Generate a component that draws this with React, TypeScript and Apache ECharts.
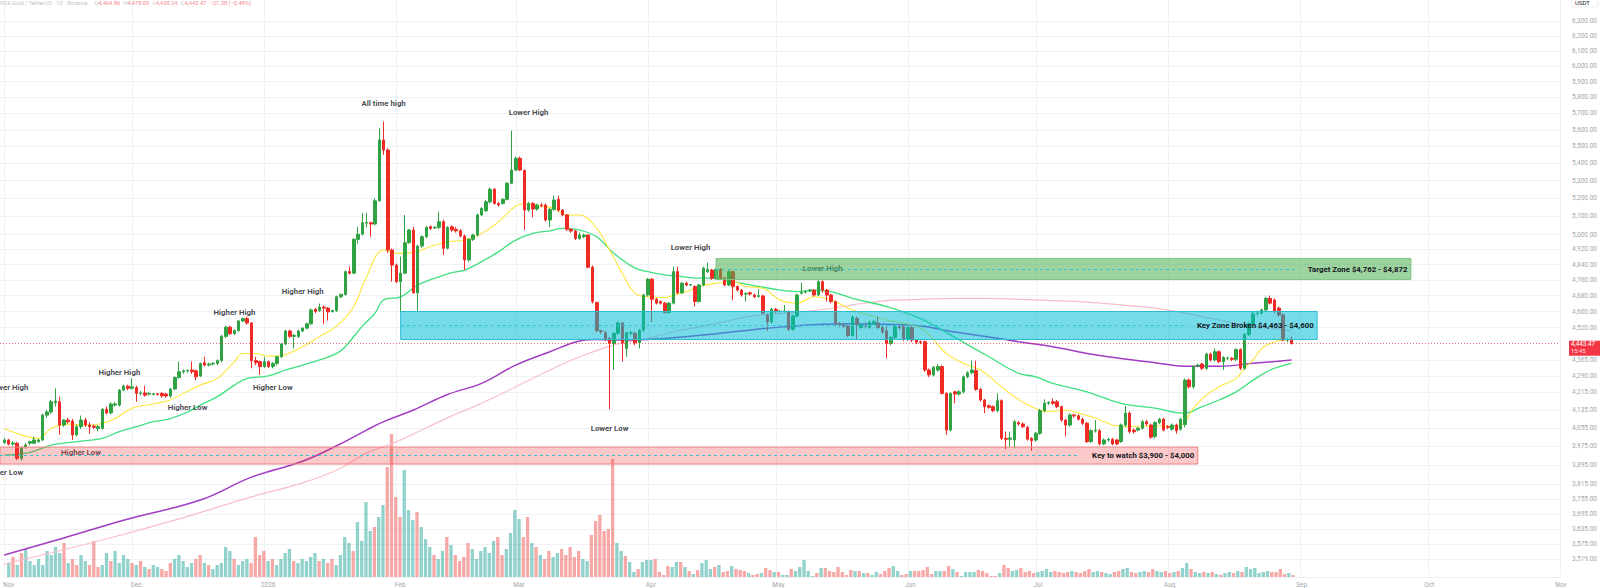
import React, { useEffect, useRef } from "react";
import * as echarts from "echarts";

// ---------- DATA ----------
// Day 0 = 2025-11-01. Axis runs from 2025-10-31 to 2026-11-01.
const AXIS_START_UTC = Date.UTC(2025, 9, 31);
const AXIS_DAYS = 367;

// [open, close, low, high] per day from 2025-11-01
const candles: number[][] = [
  [3992,4003,3985,4010],[4003,3985,3980,4008],[3985,3990,3978,3998],[3989,3924,3917,3995],[3924,3967,3915,3975],
  [3974,3981,3965,3990],[3989,3996,3980,4000],[3989,4003,3985,4018],[3996,4003,3990,4008],[4003,4112,3998,4118],
  [4112,4126,4100,4135],[4126,4172,4118,4180],[4168,4175,4150,4233],[4172,4068,4025,4195],[4068,4090,4060,4095],
  [4090,4083,4075,4100],[4086,4025,4003,4095],[4025,4061,4018,4070],[4061,4090,4050,4110],[4090,4068,4060,4100],
  [4068,4061,4030,4080],[4063,4058,4050,4070],[4053,4061,4040,4068],[4053,4138,4048,4145],[4138,4122,4115,4150],
  [4122,4162,4115,4170],[4157,4162,4150,4170],[4157,4225,4150,4230],[4225,4243,4220,4250],[4243,4233,4225,4250],
  [4233,4240,4228,4279],[4237,4210,4172,4245],[4210,4212,4200,4220],[4212,4202,4195,4245],[4207,4210,4200,4215],
  [4206,4208,4200,4212],[4208,4205,4200,4212],[4210,4199,4190,4215],[4207,4198,4190,4212],[4198,4230,4190,4235],
  [4230,4283,4225,4288],[4283,4310,4278,4357],[4310,4314,4300,4320],[4314,4316,4305,4320],[4318,4310,4300,4357],
  [4314,4286,4270,4320],[4290,4349,4285,4352],[4352,4341,4335,4380],[4341,4346,4335,4352],[4346,4349,4340,4355],
  [4349,4362,4340,4368],[4362,4478,4355,4485],[4478,4523,4470,4530],[4523,4491,4485,4530],[4491,4507,4485,4512],
  [4507,4553,4500,4558],[4553,4565,4548,4570],[4565,4543,4535,4575],[4543,4362,4326,4548],[4362,4352,4340,4380],
  [4357,4334,4295,4362],[4334,4357,4328,4380],[4357,4334,4328,4362],[4334,4349,4326,4355],[4349,4380,4340,4385],
  [4380,4441,4375,4446],[4441,4504,4435,4510],[4504,4478,4470,4510],[4478,4482,4420,4490],[4478,4504,4470,4510],
  [4504,4518,4498,4522],[4518,4539,4512,4545],[4539,4608,4535,4615],[4611,4600,4592,4618],[4605,4622,4598,4640],
  [4622,4617,4539,4630],[4617,4598,4555,4622],[4600,4605,4595,4610],[4605,4674,4598,4680],[4674,4686,4668,4690],
  [4686,4803,4680,4808],[4803,4795,4788,4830],[4795,4974,4790,4980],[4974,5002,4950,5042],[5002,5064,4995,5119],
  [5062,5066,5040,5119],[5064,5057,4988,5070],[5057,5186,5050,5200],[5186,5539,5180,5609],[5539,5479,5450,5650],
  [5479,4917,4900,5490],[4917,4837,4751,4925],[4837,4751,4745,4845],[4751,4795,4598,4882],[4795,4956,4790,5107],
  [4956,5024,4950,5030],[5024,4694,4690,5042],[4694,4938,4598,4945],[4938,4988,4930,4995],[4988,5039,4980,5045],
  [5042,5033,5025,5050],[5036,5039,5030,5045],[5039,5070,5030,5124],[5070,4926,4890,5080],[4926,5039,4920,5045],
  [5042,5024,5015,5050],[5028,5020,5010,5040],[5020,4992,4985,5030],[4992,4864,4811,5000],[4864,4974,4855,4980],
  [4974,4997,4965,5005],[4997,5107,4990,5115],[5107,5143,5100,5150],[5130,5180,5125,5190],[5180,5251,5170,5260],
  [5251,5171,5165,5258],[5171,5162,5155,5178],[5171,5194,5165,5200],[5194,5285,5188,5292],[5285,5362,5280,5595],
  [5362,5430,5355,5440],[5430,5362,5355,5440],[5358,5134,5024,5365],[5134,5171,5125,5178],[5171,5140,5094,5178],
  [5140,5162,5130,5170],[5162,5158,5150,5175],[5162,5079,5070,5170],[5079,5138,5040,5145],[5138,5190,5130,5215],
  [5194,5134,5125,5215],[5134,5107,5100,5140],[5107,5028,5020,5112],[5028,5019,5010,5034],[5019,4979,4970,5025],
  [4979,4997,4972,5010],[4988,4997,4980,5005],[4997,4826,4820,5002],[4826,4650,4640,4835],[4645,4505,4498,4650],
  [4505,4501,4490,4510],[4496,4463,4455,4505],[4468,4444,4138,4475],[4444,4493,4318,4500],[4493,4543,4485,4550],
  [4543,4447,4357,4548],[4420,4496,4380,4500],[4493,4496,4485,4505],[4493,4447,4435,4500],[4447,4509,4420,4515],
  [4509,4683,4500,4690],[4683,4764,4675,4770],[4764,4661,4548,4770],[4661,4642,4635,4668],[4650,4642,4635,4655],
  [4642,4595,4590,4648],[4595,4642,4588,4648],[4642,4803,4635,4829],[4803,4694,4688,4829],[4694,4743,4688,4750],
  [4743,4734,4728,4750],[4734,4736,4728,4740],[4726,4650,4625,4732],[4650,4734,4645,4740],[4734,4821,4728,4829],
  [4803,4815,4795,4850],[4811,4769,4760,4818],[4769,4815,4762,4822],[4815,4769,4760,4822],[4769,4734,4728,4775],
  [4734,4803,4728,4810],[4803,4726,4658,4810],[4726,4708,4700,4732],[4708,4683,4675,4714],[4688,4691,4650,4696],
  [4694,4688,4680,4700],[4683,4674,4668,4690],[4676,4680,4670,4712],[4678,4592,4585,4685],[4583,4548,4505,4590],
  [4548,4611,4540,4618],[4611,4600,4592,4618],[4600,4602,4595,4608],[4600,4603,4595,4633],[4600,4512,4505,4606],
  [4512,4578,4505,4585],[4578,4683,4570,4690],[4692,4696,4685,4746],[4698,4700,4690,4708],[4703,4708,4698,4714],
  [4708,4683,4675,4712],[4683,4751,4678,4758],[4751,4708,4694,4758],[4708,4683,4650,4714],[4683,4650,4640,4688],
  [4650,4540,4530,4655],[4540,4533,4525,4548],[4533,4528,4520,4540],[4528,4482,4475,4535],[4482,4572,4478,4580],
  [4565,4535,4460,4575],[4521,4533,4515,4540],[4530,4528,4518,4545],[4521,4548,4515,4555],[4540,4550,4535,4560],
  [4543,4521,4515,4575],[4521,4500,4490,4530],[4505,4444,4373,4528],[4444,4473,4435,4480],[4473,4525,4465,4530],
  [4525,4521,4510,4530],[4528,4465,4455,4535],[4465,4521,4455,4528],[4521,4460,4450,4528],[4460,4450,4440,4465],
  [4452,4450,4440,4458],[4452,4318,4310,4458],[4318,4295,4285,4325],[4295,4330,4288,4338],[4318,4334,4310,4345],
  [4334,4210,4205,4340],[4210,4046,4025,4215],[4046,4210,4040,4215],[4217,4207,4165,4222],[4207,4217,4200,4225],
  [4217,4286,4210,4292],[4286,4305,4280,4312],[4305,4318,4298,4362],[4315,4228,4222,4362],[4228,4180,4172,4235],
  [4180,4150,4121,4185],[4154,4147,4140,4160],[4150,4132,4125,4155],[4132,4177,4125,4210],[4177,4010,4003,4183],
  [4010,4006,3963,4040],[4006,4012,3974,4039],[4003,4083,3967,4090],[4079,4073,4065,4085],[4073,4061,4055,4080],
  [4058,4006,4000,4065],[4010,4000,3957,4015],[4003,4032,3995,4038],[4032,4132,4025,4140],[4132,4165,4125,4183],
  [4165,4168,4158,4175],[4172,4165,4158,4186],[4172,4150,4143,4180],[4150,4090,4083,4155],[4090,4068,4018,4095],
  [4068,4113,4060,4120],[4113,4109,4100,4118],[4109,4094,4088,4115],[4094,4076,4068,4100],[4076,3996,3990,4082],
  [3996,4043,3990,4050],[4043,4046,4035,4090],[4043,3986,3980,4050],[3986,4003,3980,4010],[4003,4006,3995,4012],
  [4006,3986,3980,4012],[4003,3986,3980,4008],[3996,4068,3990,4075],[4068,4121,4060,4153],[4121,4039,4032,4128],
  [4046,4039,4030,4052],[4046,4054,4040,4060],[4054,4083,4048,4090],[4083,4073,4065,4090],[4068,4015,4008,4075],
  [4018,4079,4010,4085],[4079,4094,4072,4100],[4094,4046,4040,4100],[4061,4058,4050,4068],[4050,4068,4043,4075],
  [4068,4043,4030,4075],[4050,4094,4043,4100],[4070,4271,4058,4278],[4271,4240,4232,4278],[4240,4334,4232,4340],
  [4338,4341,4330,4348],[4346,4326,4318,4352],[4326,4393,4318,4400],[4393,4365,4358,4400],[4365,4404,4358,4420],
  [4404,4357,4350,4410],[4357,4377,4318,4383],[4373,4374,4365,4380],[4373,4368,4360,4378],[4368,4415,4360,4420],
  [4415,4326,4318,4420],[4326,4487,4318,4495],[4487,4540,4480,4548],[4540,4588,4533,4600],[4590,4592,4580,4605],
  [4592,4608,4585,4615],[4608,4666,4600,4672],[4666,4642,4635,4680],[4658,4600,4592,4665],[4617,4583,4575,4625],
  [4583,4460,4455,4590],[4460,4464.86,4450,4470],[4464.86,4443.47,4438.24,4478.09],
];

// volume per day (same order as candles)
const volumes: number[] = [
  14,20,12,24,28,16,12,18,12,26, 22,30,24,34,14,18,12,22,16,12, 36,10,12,24,16,26,14,22,18,14,
  12,16,10,8,12,10,8,6,14,18, 22,16,10,14,18,22,14,12,8,12, 14,30,26,18,12,16,18,14,40,22,
  26,16,18,12,18,24,28,16,14,18, 16,20,24,16,18,14,18,12,22,40, 34,26,55,36,75,46,50,60,72,110,
  143,80,60,107,67,57,65,50,38,30, 22,18,26,40,32,22,16,20,34,28, 18,26,30,24,36,40,22,28,44,67,
  58,40,60,34,30,22,18,26,20,24, 28,22,30,20,26,18,16,42,56,62, 46,48,118,34,26,21,15,5,8,15,
  17,17,18,5,2,11,10,15,15,10, 6,3,7,14,17,8,10,12,5,6, 11,8,7,6,4,2,3,4,9,7,
  5,5,2,2,8,6,10,17,6,1, 4,9,9,6,5,10,5,2,7,6, 6,4,4,2,5,3,6,9,11,6,
  2,3,6,6,6,7,10,3,6,6, 6,11,8,5,1,5,5,5,7,6, 4,1,1,4,12,9,6,7,9,5,
  6,4,5,6,8,5,6,5,4,5, 6,5,4,6,8,5,6,5,4,3, 5,6,8,9,5,4,5,6,5,8,
  6,5,6,4,5,6,9,14,8,5, 4,5,4,5,3,2,4,5,4,6, 5,10,8,9,4,5,6,5,5,8,
  3,4,2,
];

// moving averages sampled as [day, price]
const emaFast: number[][] = [
  [0,4053],[4,4025],[8,4010],[11,4053],[15,4072],[19,4068],[23,4075],[26,4097],[30,4143],[35,4162],[39,4180],
  [42,4210],[46,4248],[50,4279],[54,4357],[56,4396],[59,4396],[62,4383],[64,4383],[70,4428],[74,4478],[78,4528],
  [82,4625],[85,4777],[89,4917],[92,4899],[96,4903],[100,4935],[104,4961],[108,4970],[112,5006],[116,5070],
  [120,5157],[122,5168],[126,5157],[129,5143],[132,5107],[135,5107],[139,5033],[142,4917],[145,4795],[148,4691],
  [151,4674],[155,4670],[157,4683],[160,4700],[163,4726],[167,4743],[171,4751],[174,4726],[178,4717],[182,4658],
  [186,4642],[190,4674],[194,4658],[199,4608],[207,4558],[215,4517],[221,4396],[225,4349],[229,4318],[233,4256],
  [237,4195],[241,4150],[245,4128],[249,4135],[252,4121],[256,4099],[260,4068],[263,4061],[268,4064],[273,4064],
  [276,4068],[279,4143],[282,4202],[285,4240],[289,4279],[291,4326],[293,4365],[295,4420],[298,4452],[302,4463],
];
const emaMid: number[][] = [
  [0,3938],[6,3950],[11,3981],[15,3991],[19,4000],[23,4010],[27,4039],[31,4061],[35,4083],[39,4097],[43,4126],
  [46,4157],[50,4195],[54,4248],[57,4279],[62,4290],[66,4318],[70,4341],[74,4365],[78,4396],[80,4428],[84,4528],
  [87,4592],[89,4658],[93,4674],[97,4734],[101,4769],[105,4798],[108,4811],[112,4855],[116,4908],[120,4970],
  [124,5006],[128,5020],[131,5033],[135,5024],[139,4988],[143,4899],[148,4821],[151,4803],[155,4786],[159,4777],
  [163,4769],[167,4769],[171,4751],[174,4739],[182,4708],[186,4700],[190,4708],[194,4700],[199,4666],[207,4625],
  [215,4565],[223,4473],[231,4380],[238,4302],[242,4286],[246,4256],[254,4217],[262,4165],[270,4143],[277,4121],
  [281,4150],[285,4180],[289,4217],[293,4271],[297,4318],[302,4349],
];
const emaSlow: number[][] = [
  [0,3534],[14,3600],[28,3670],[46,3751],[58,3845],[70,3912],[78,3978],[85,4046],[89,4083],[96,4135],[104,4205],
  [112,4256],[120,4341],[128,4404],[135,4456],[139,4463],[143,4460],[151,4463],[159,4475],[167,4491],[174,4507],
  [182,4523],[192,4537],[199,4540],[207,4537],[215,4528],[223,4499],[231,4475],[238,4452],[246,4428],[254,4396],
  [262,4372],[270,4352],[277,4336],[285,4336],[293,4349],[302,4365],
];
const smaSlow: number[][] = [
  [0,3500],[23,3592],[40,3670],[58,3764],[70,3821],[78,3875],[85,3947],[89,3974],[93,4003],[104,4100],[112,4165],
  [120,4240],[128,4318],[135,4380],[143,4436],[151,4468],[159,4509],[167,4540],[174,4573],[182,4590],[192,4610],
  [199,4633],[207,4655],[215,4661],[223,4666],[231,4666],[238,4661],[246,4655],[254,4647],[262,4633],[270,4617],
  [277,4592],[285,4558],[291,4535],[302,4505],
];

const priceTicks: number[] = [
  6300, 6200, 6100, 6000, 5900, 5800, 5700, 5600, 5500, 5400, 5300, 5200, 5100, 5000,
  4920, 4840, 4760, 4680, 4600, 4520, 4365, 4290, 4215, 4135, 4055, 3975, 3895,
  3815, 3755, 3695, 3635, 3575, 3519,
];

const lastPrice = 4443.47;
const lastTime = "15:45";
const headerTitle = "PAX Gold / TetherUS · 1D · Binance";
const headerOHLC: [string, string][] = [["O", "4,464.86"], ["H", "4,478.09"], ["L", "4,438.24"], ["C", "4,443.47"]];
const headerChange = "−21.38 (−0.48%)";

// [day, price, text]
const annotations: [number, number, string][] = [
  [89, 5759, "All time high"],
  [123, 5703, "Lower High"],
  [70, 4703, "Higher High"],
  [54, 4593, "Higher High"],
  [27, 4304, "Higher High"],
  [1, 4237, "Lower High"],
  [63, 4237, "Higher Low"],
  [43, 4144, "Higher Low"],
  [18, 3947, "Higher Low"],
  [0, 3863, "Lower Low"],
  [161, 4928, "Lower High"],
  [192, 4821, "Lower High"],
  [142, 4051, "Lower Low"],
];

type Zone = { label: string; from: number; to: number; dashTo: number; low: number; high: number; fill: string; border: string };
const zones: Zone[] = [
  { label: "Target Zone $4,762 - $4,872", from: 167, to: 330, dashTo: 303, low: 4762, high: 4872, fill: "rgba(76,175,80,0.55)", border: "#7cc47f" },
  { label: "Key Zone Broken $4,463 - $4,600", from: 93, to: 308, dashTo: 277, low: 4463, high: 4600, fill: "rgba(0,188,212,0.54)", border: "#2bbcd0" },
  { label: "Key to watch $3,900 - $4,000", from: -1, to: 280, dashTo: 252, low: 3900, high: 3972, fill: "rgba(242,54,54,0.27)", border: "#ee8080" },
];

// ---------- HELPERS ----------
const MONTHS = ["Jan","Feb","Mar","Apr","May","Jun","Jul","Aug","Sep","Oct","Nov","Dec"];
const categories: string[] = [];
for (let i = 0; i < AXIS_DAYS; i++) {
  categories.push(new Date(AXIS_START_UTC + i * 86400000).toISOString().slice(0, 10));
}
const idx = (day: number) => day + 1;
const ln = Math.log;
const fmt = (v: number) => v.toLocaleString("en-US", { minimumFractionDigits: 2, maximumFractionDigits: 2 });
const isMonthStart = (_i: number, v: string) => typeof v === "string" && v.endsWith("-01");
const monthLabel = (v: string) => {
  const [y, m] = v.split("-");
  return m === "01" ? y : MONTHS[Number(m) - 1];
};

const FONT = "Roboto, 'Noto Sans', sans-serif";
const UP = "#2fa343";
const DOWN = "#ee2b24";

export default function App() {
  const ref = useRef<HTMLDivElement>(null);

  useEffect(() => {
    document.body.style.margin = "0";
    if (!ref.current) return;
    const chart = echarts.init(ref.current, undefined, { renderer: "svg" });

    const tickLn = priceTicks.map((p) => ln(p));
    const gridLeft = -2.42;
    const gridRight = 39;

    const lineSeries = (name: string, pts: number[][], color: string, width: number) => ({
      name,
      type: "line",
      xAxisIndex: 0,
      yAxisIndex: 0,
      data: pts.map(([d, p]) => [idx(d), ln(p)]),
      smooth: 0.4,
      symbol: "none",
      clip: false,
      z: 2,
      lineStyle: { color, width },
      silent: true,
    });

    const option: any = {
      animation: false,
      backgroundColor: "#ffffff",
      textStyle: { fontFamily: FONT },
      grid: [
        { left: gridLeft, right: gridRight, top: 0, bottom: 13 },
        { left: gridLeft, right: gridRight, top: 402, bottom: 11 },
      ],
      xAxis: [
        {
          type: "category",
          gridIndex: 0,
          data: categories,
          boundaryGap: false,
          axisLine: { show: false },
          axisTick: { show: false },
          axisLabel: { show: false },
          splitLine: { show: true, interval: isMonthStart, lineStyle: { color: "#f0f1f4", width: 1 } },
        },
        {
          type: "category",
          gridIndex: 1,
          data: categories,
          boundaryGap: false,
          axisLine: { show: true, lineStyle: { color: "#eeeff2" } },
          axisTick: { show: false },
          axisLabel: {
            interval: isMonthStart,
            formatter: monthLabel,
            color: "#a3a6ae",
            fontSize: 6.5,
            margin: 4,
            fontFamily: FONT,
          },
          splitLine: { show: false },
        },
      ],
      yAxis: [
        {
          type: "value",
          gridIndex: 0,
          position: "right",
          min: ln(3458.6),
          max: ln(6444.8),
          axisLine: { show: false },
          axisTick: { show: false, customValues: tickLn },
          axisLabel: {
            customValues: tickLn,
            formatter: (v: number) => fmt(Math.round(Math.exp(v) * 100) / 100),
            color: "#a3a6ae",
            fontSize: 6.5,
            margin: 12,
            fontFamily: FONT,
          },
          splitLine: { show: true, lineStyle: { color: "#f0f1f4", width: 1 } },
        },
        { type: "value", gridIndex: 1, min: 0, max: 175, show: false },
      ],
      series: [
        {
          name: "Volume",
          type: "bar",
          xAxisIndex: 1,
          yAxisIndex: 1,
          barWidth: 3.3,
          z: 1,
          silent: true,
          data: volumes.map((v, i) => ({
            value: [idx(i), v],
            itemStyle: { color: candles[i][1] >= candles[i][0] ? "rgba(38,166,154,0.5)" : "rgba(239,83,80,0.5)" },
          })),
        },
        {
          name: "PAXG",
          type: "candlestick",
          xAxisIndex: 0,
          yAxisIndex: 0,
          barWidth: 3,
          z: 2,
          silent: true,
          encode: { x: 0, y: [1, 2, 3, 4] },
          data: candles.map(([o, c, l, h], i) => [idx(i), ln(o), ln(c), ln(l), ln(h)]),
          itemStyle: { color: UP, color0: DOWN, borderColor: UP, borderColor0: DOWN, borderWidth: 1 },
          markLine: {
            silent: true,
            symbol: ["none", "none"],
            z: 4,
            label: { show: false },
            lineStyle: { color: "#f23645", type: [1, 2], width: 1, opacity: 0.7 },
            data: [{ yAxis: ln(lastPrice) }],
          },
        },
        lineSeries("SMA200", smaSlow, "#f7bfcb", 1.2),
        lineSeries("EMA200", emaSlow, "#a23cc4", 1.5),
        lineSeries("EMA50", emaMid, "#3ee07f", 1.3),
        lineSeries("EMA20", emaFast, "#fde63a", 1.1),
        {
          name: "Annotations",
          type: "scatter",
          xAxisIndex: 0,
          yAxisIndex: 0,
          symbolSize: 0,
          z: 3,
          silent: true,
          data: annotations.map(([d, p, t]) => ({ value: [idx(d), ln(p)], name: t })),
          label: {
            show: true,
            position: "inside",
            formatter: "{b}",
            color: "#131722",
            fontWeight: "bold",
            fontSize: 7.8,
            fontFamily: FONT,
          },
        },
        {
          name: "Zones",
          type: "line",
          xAxisIndex: 0,
          yAxisIndex: 0,
          data: [],
          silent: true,
          markArea: {
            silent: true,
            z: 10,
            data: zones.map((zn) => [
              {
                name: zn.label,
                xAxis: categories[idx(zn.from)],
                yAxis: ln(zn.high),
                itemStyle: { color: zn.fill, borderColor: zn.border, borderWidth: 1 },
                label: {
                  show: true,
                  position: "insideRight",
                  distance: 4,
                  formatter: "{b}",
                  color: "#131722",
                  fontWeight: "bold",
                  fontSize: 7.8,
                  fontFamily: FONT,
                },
              },
              { xAxis: categories[idx(zn.to)], yAxis: ln(zn.low) },
            ]),
          },
          markLine: {
            silent: true,
            z: 11,
            symbol: ["none", "none"],
            label: { show: false },
            lineStyle: { color: "#2ec4d6", type: [3, 3], width: 1 },
            data: zones.map((zn) => {
              const mid = (ln(zn.low) + ln(zn.high)) / 2;
              return [
                { xAxis: categories[idx(zn.from)], yAxis: mid },
                { xAxis: categories[idx(zn.dashTo)], yAxis: mid },
              ];
            }),
          },
        },
      ],
      graphic: {
        elements: [
          {
            id: "hdr",
            type: "text",
            x: 0,
            y: 3,
            z: 20,
            style: {
              text:
                `{g|${headerTitle}}  ` +
                headerOHLC.map(([k, v]) => `{g|${k}}{r|${v}}`).join(" ") +
                ` {r|${headerChange}}`,
              verticalAlign: "middle",
              rich: {
                g: { fill: "#bfc2c9", fontSize: 5.7, fontFamily: FONT },
                r: { fill: "#f58a8e", fontSize: 5.7, fontFamily: FONT },
              },
            },
          },
          {
            id: "usdtBox",
            type: "rect",
            z: 20,
            shape: { x: 1571, y: -3, width: 27, height: 10, r: 1.5 },
            style: { fill: "#ffffff", stroke: "#e0e3eb", lineWidth: 0.6 },
          },
          {
            id: "usdt",
            type: "text",
            x: 1575,
            y: 2.5,
            z: 21,
            style: { text: "USDT", fill: "#131722", fontSize: 6, fontFamily: FONT, verticalAlign: "middle" },
          },
        ],
      },
    };

    chart.setOption(option);

    const yl = chart.convertToPixel({ yAxisIndex: 0 }, ln(lastPrice)) as number;
    if (typeof yl === "number" && isFinite(yl)) {
      chart.setOption({
        graphic: {
          elements: [
            {
              id: "tagRect",
              type: "rect",
              z: 20,
              shape: { x: 1569, y: yl - 2.8, width: 31, height: 15 },
              style: { fill: "#f23645" },
            },
            {
              id: "tagT1",
              type: "text",
              z: 21,
              x: 1571,
              y: yl + 0.9,
              style: { text: fmt(lastPrice), fill: "#ffffff", fontSize: 6.3, fontFamily: FONT, verticalAlign: "middle" },
            },
            {
              id: "tagT2",
              type: "text",
              z: 21,
              x: 1571,
              y: yl + 7.6,
              style: { text: lastTime, fill: "#ffe3e5", fontSize: 5.8, fontFamily: FONT, verticalAlign: "middle" },
            },
          ],
        },
      });
    }

    return () => chart.dispose();
  }, []);

  return <div ref={ref} style={{ width: 1600, height: 588 }} />;
}
